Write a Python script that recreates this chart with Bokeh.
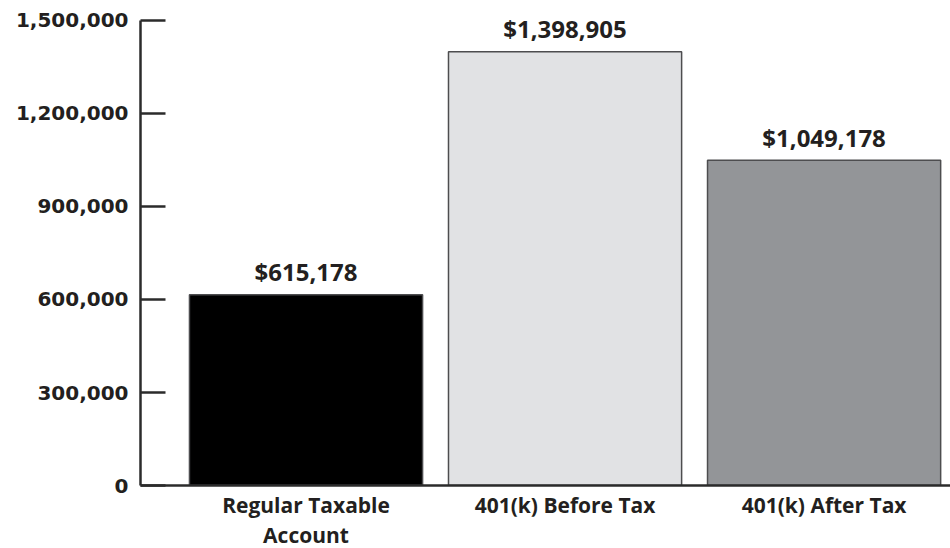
from bokeh.plotting import figure
from bokeh.models import ColumnDataSource, FixedTicker, Range1d
from bokeh.core.properties import value
from bokeh.embed import file_html
from bokeh.resources import INLINE

# Account balances
categories = ["Regular Taxable\nAccount", "401(k) Before Tax", "401(k) After Tax"]
balances = [615178, 1398905, 1049178]
bar_colors = ["#000000", "#e1e2e4", "#939598"]
y_ticks = [0, 300000, 600000, 900000, 1200000, 1500000]

TEXT = "#231f20"
AXIS = "#2b2b2b"

xs = list(range(len(categories)))
source = ColumnDataSource(data=dict(
    x=xs,
    balance=balances,
    color=bar_colors,
    label=[f"${v:,}" for v in balances],
))

p = figure(
    width=950, height=548,
    frame_width=810, frame_height=485,
    x_range=Range1d(-0.639, 2.488),
    y_range=Range1d(0, 1564516),
    output_backend="svg", toolbar_location=None,
    min_border_left=140, min_border_right=0,
    min_border_top=0, min_border_bottom=63,
)
p.grid.visible = False
p.outline_line_color = None
p.background_fill_color = "white"
p.border_fill_color = "white"

p.vbar(x="x", top="balance", width=0.9, bottom=0, source=source,
       fill_color="color", line_color="#4d4d4f", line_width=1.5)

p.text(x="x", y="balance", text="label", source=source,
       text_align="center", text_baseline="alphabetic", y_offset=-23,
       text_font=value("Open Sans"), text_font_style="bold",
       text_font_size="24px", text_color=TEXT)

# Left axis: ticks pointing into the plot, line only over the tick span
ya = p.yaxis[0]
ya.ticker = FixedTicker(ticks=y_ticks)
ya.bounds = (0, 1500000)
ya.formatter.use_scientific = False
ya.major_label_overrides = {t: f"{t:,}" for t in y_ticks}
ya.major_tick_in = 25
ya.major_tick_out = 0
ya.minor_tick_in = 0
ya.minor_tick_out = 0
ya.axis_line_width = 2.5
ya.axis_line_color = AXIS
ya.major_tick_line_width = 2.5
ya.major_tick_line_color = AXIS
ya.major_label_standoff = 12
ya.major_label_text_font = "DejaVu Sans"
ya.major_label_text_font_style = "bold"
ya.major_label_text_font_size = "20px"
ya.major_label_text_color = TEXT

# Bottom axis: category names, no ticks
xa = p.xaxis[0]
xa.ticker = FixedTicker(ticks=xs)
xa.major_label_overrides = {i: c for i, c in zip(xs, categories)}
xa.major_tick_in = 0
xa.major_tick_out = 0
xa.minor_tick_in = 0
xa.minor_tick_out = 0
xa.axis_line_width = 2.5
xa.axis_line_color = AXIS
xa.major_label_standoff = 5
xa.major_label_text_font = "Open Sans"
xa.major_label_text_font_style = "bold"
xa.major_label_text_font_size = "21px"
xa.major_label_text_color = TEXT
xa.major_label_text_line_height = 1.1

with open("out.html", "w") as f:
    f.write(file_html(p, INLINE))
